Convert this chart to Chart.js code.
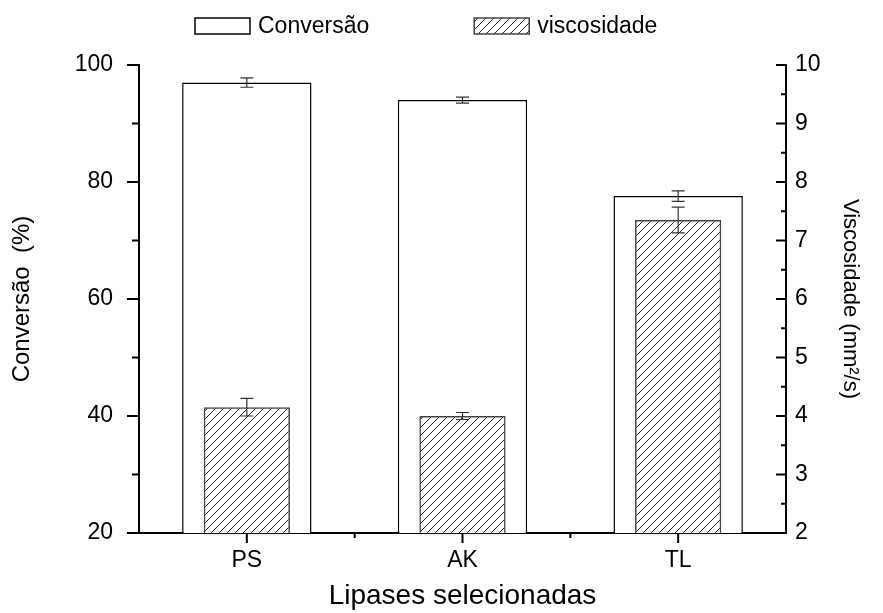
<!DOCTYPE html>
<html lang="pt">
<head>
<meta charset="utf-8">
<title>Lipases selecionadas</title>
<script src="https://cdn.jsdelivr.net/npm/chart.js@4.4.1/dist/chart.umd.min.js"></script>
<style>
  html, body { margin: 0; padding: 0; background: #fff; }
  #caixa { width: 883px; height: 613px; }
</style>
</head>
<body>
<div id="caixa"><canvas id="bar-chart" width="883" height="613"></canvas></div>
<script>
/**
 * dados
 */
const lipases = ["PS", "AK", "TL"];
const conversao = [97.0, 94.0, 77.6];
const conversaoErro = [0.8, 0.5, 0.9];
const viscosidade = [4.15, 4.0, 7.35];
const viscosidadeErro = [0.15, 0.06, 0.22];

const fonte = "'Liberation Sans', Arial, sans-serif";

const contenedor = document.querySelector("#bar-chart").getContext("2d");

// hachurado das barras de viscosidade
const hachura = document.createElement("canvas");
hachura.width = 8;
hachura.height = 8;
const hctx = hachura.getContext("2d");
hctx.strokeStyle = "#222";
hctx.lineWidth = 1;
hctx.beginPath();
hctx.moveTo(0, 8); hctx.lineTo(8, 0);
hctx.moveTo(-1, 1); hctx.lineTo(1, -1);
hctx.moveTo(7, 9); hctx.lineTo(9, 7);
hctx.stroke();
const padraoHachura = contenedor.createPattern(hachura, "repeat");

// barras de erro
const barrasErro = {
  id: "barrasErro",
  afterDatasetsDraw(chart) {
    const ctx = chart.ctx;
    chart.data.datasets.forEach((ds, i) => {
      const meta = chart.getDatasetMeta(i);
      const escala = chart.scales[ds.yAxisID];
      ctx.save();
      ctx.strokeStyle = "#333";
      ctx.lineWidth = 1.2;
      ctx.beginPath();
      meta.data.forEach((barra, j) => {
        const topo = escala.getPixelForValue(ds.data[j] + ds.erros[j]);
        const base = escala.getPixelForValue(ds.data[j] - ds.erros[j]);
        ctx.moveTo(barra.x, topo); ctx.lineTo(barra.x, base);
        ctx.moveTo(barra.x - 6.5, topo); ctx.lineTo(barra.x + 6.5, topo);
        ctx.moveTo(barra.x - 6.5, base); ctx.lineTo(barra.x + 6.5, base);
      });
      ctx.stroke();
      ctx.restore();
    });
  },
};

// marcas dos eixos (maiores e menores)
const marcas = {
  id: "marcas",
  afterDraw(chart) {
    const { ctx, scales: { x, y, y1 } } = chart;
    ctx.save();
    ctx.strokeStyle = "#000";
    ctx.lineWidth = 2;
    ctx.beginPath();
    // esquerda, para fora
    for (let v = y.min; v <= y.max; v += 10) {
      const py = y.getPixelForValue(v);
      const len = v % 20 === 0 ? 12 : 7;
      ctx.moveTo(y.right, py); ctx.lineTo(y.right - len, py);
    }
    // direita, para dentro
    for (let v = y1.min; v <= y1.max; v += 0.5) {
      const py = y1.getPixelForValue(v);
      const len = Number.isInteger(v) ? 10 : 5;
      ctx.moveTo(y1.left, py); ctx.lineTo(y1.left - len, py);
    }
    // eixo x
    lipases.forEach((_, i) => {
      const px = x.getPixelForValue(i);
      ctx.moveTo(px, x.top); ctx.lineTo(px, x.top + 10);
      if (i < lipases.length - 1) {
        const meio = (px + x.getPixelForValue(i + 1)) / 2;
        ctx.moveTo(meio, x.top); ctx.lineTo(meio, x.top + 5);
      }
    });
    ctx.stroke();
    ctx.restore();
  },
};

// legenda no topo
const legenda = {
  id: "legenda",
  afterDraw(chart) {
    const ctx = chart.ctx;
    ctx.save();
    ctx.font = "23px " + fonte;
    ctx.textBaseline = "middle";
    let x0 = 195;
    chart.data.datasets.forEach((ds) => {
      ctx.fillStyle = ds.backgroundColor;
      ctx.fillRect(x0, 18, 55, 16);
      ctx.strokeStyle = ds.borderColor;
      ctx.lineWidth = 1.5;
      ctx.strokeRect(x0, 18, 55, 16);
      ctx.fillStyle = "#000";
      ctx.fillText(ds.label, x0 + 63, 27);
      x0 += 63 + ctx.measureText(ds.label).width + 105;
    });
    ctx.restore();
  },
};

const barChart = new Chart(contenedor, {
  type: "bar",
  data: {
    labels: lipases,
    datasets: [
      {
        label: "Conversão",
        data: conversao,
        erros: conversaoErro,
        yAxisID: "y",
        backgroundColor: "#fff",
        borderColor: "#000",
        borderWidth: 1.5,
        barPercentage: 0.6,
        categoryPercentage: 1,
        grouped: false,
        order: 1,
      },
      {
        label: "viscosidade",
        data: viscosidade,
        erros: viscosidadeErro,
        yAxisID: "y1",
        backgroundColor: padraoHachura,
        borderColor: "#444",
        borderWidth: 1.5,
        barPercentage: 0.4,
        categoryPercentage: 1,
        grouped: false,
        order: 0,
      },
    ],
  },
  options: {
    responsive: false,
    animation: false,
    layout: { padding: { top: 65, left: 0, right: 0, bottom: 0 } },
    plugins: {
      legend: { display: false },
      tooltip: { enabled: false },
    },
    scales: {
      x: {
        offset: true,
        grid: { display: false, drawTicks: false },
        border: { color: "#000", width: 2 },
        ticks: { color: "#000", padding: 14, font: { family: fonte, size: 23 } },
        title: {
          display: true,
          text: "Lipases selecionadas",
          color: "#000",
          font: { family: fonte, size: 28 },
          padding: { top: 0, bottom: 0 },
        },
        afterFit: (s) => { s.height = 80; },
      },
      y: {
        position: "left",
        min: 20,
        max: 100,
        grid: { display: false, drawTicks: false },
        border: { color: "#000", width: 2 },
        ticks: { stepSize: 20, color: "#000", padding: 26, font: { family: fonte, size: 23 } },
        title: {
          display: true,
          text: "Conversão  (%)",
          color: "#000",
          font: { family: fonte, size: 24 },
          padding: { top: 8, bottom: 0 },
        },
        afterFit: (s) => { s.width = 139; },
      },
      y1: {
        position: "right",
        min: 2,
        max: 10,
        grid: { display: false, drawTicks: false },
        border: { color: "#000", width: 2 },
        ticks: { stepSize: 1, color: "#000", padding: 9, font: { family: fonte, size: 23 } },
        title: {
          display: true,
          text: "Viscosidade (mm²/s)",
          color: "#000",
          font: { family: fonte, size: 22 },
          padding: { top: 20, bottom: 0 },
        },
        afterFit: (s) => { s.width = 97; },
      },
    },
  },
  plugins: [barrasErro, marcas, legenda],
});
</script>
</body>
</html>
